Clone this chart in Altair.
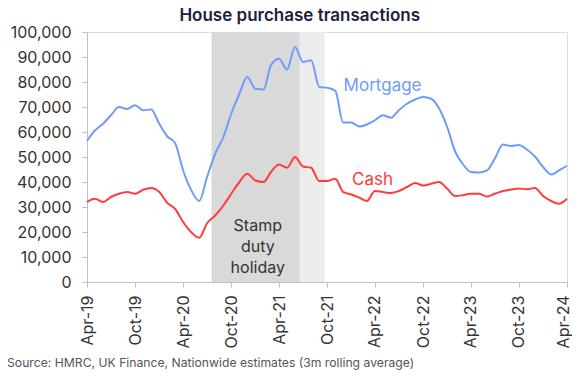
import altair as alt
import pandas as pd

# ---- data ----
months = pd.date_range("2019-04-01", "2024-04-01", freq="MS").strftime("%Y-%m-%d").tolist()

mortgage = [56.5, 60.6, 63.3, 66.7, 70.0, 69.2, 70.7, 68.7, 69.0, 63.3,
            58.2, 55.6, 44.6, 36.9, 32.4, 42.0, 51.3, 58.0, 67.3, 75.3,
            82.0, 77.3, 77.0, 86.7, 89.3, 85.0, 94.0, 88.0, 88.7, 78.0,
            77.7, 76.5, 63.8, 63.8, 62.2, 63.0, 64.7, 66.7, 65.7, 68.7,
            71.3, 73.0, 74.0, 73.3, 69.5, 62.0, 52.0, 47.3, 44.0, 43.8,
            44.6, 49.3, 55.0, 54.4, 54.8, 52.9, 50.2, 46.0, 43.0, 44.6,
            46.5]
cash = [32.0, 33.3, 32.0, 34.0, 35.3, 36.0, 35.3, 36.9, 37.6, 36.0,
        31.6, 29.3, 24.0, 20.0, 17.7, 23.5, 26.6, 30.6, 35.3, 40.0,
        43.3, 40.6, 40.0, 44.0, 47.0, 45.7, 50.0, 46.2, 45.7, 40.4,
        40.4, 41.3, 36.0, 35.0, 33.7, 32.4, 36.4, 36.0, 35.6, 36.4,
        38.0, 39.6, 38.6, 39.3, 40.0, 37.3, 34.4, 34.7, 35.3, 35.3,
        34.2, 35.3, 36.4, 37.0, 37.4, 37.1, 37.6, 34.4, 32.4, 31.3,
        33.3]

series_names = ["Mortgage", "Cash"]
series_colors = ["#6e9cf8", "#ff3b3b"]

holiday_start = ["2020-07-18", "2021-06-19"]
holiday_end = ["2021-06-19", "2021-09-22"]
holiday_fill = ["#d9d9d9", "#ececec"]

tick_dates = ["2019-04-01", "2019-10-01", "2020-04-01", "2020-10-01",
              "2021-04-01", "2021-10-01", "2022-04-01", "2022-10-01",
              "2023-04-01", "2023-10-01", "2024-04-01"]
y_ticks = [0, 10000, 20000, 30000, 40000, 50000, 60000, 70000, 80000, 90000, 100000]

label_text = ["Mortgage", "Cash"]
label_date = ["2022-04-30", "2022-03-23"]
label_value = [76300, 38900]

title_text = "House purchase transactions"
source_text = "Source: HMRC, UK Finance, Nationwide estimates (3m rolling average)"

FONT = "Inter"

# ---- tables ----
rows = []
for d, m, c in zip(months, mortgage, cash):
    rows.append({"date": d, "series": "Mortgage", "value": m * 1000})
    rows.append({"date": d, "series": "Cash", "value": c * 1000})
lines_df = pd.DataFrame(rows)

shade_df = pd.DataFrame({"start": holiday_start, "end": holiday_end,
                         "fill": holiday_fill, "y0": [0, 0], "y1": [100000, 100000]})
labels_df = pd.DataFrame({"date": label_date, "value": label_value,
                          "series": label_text})
holiday_df = pd.DataFrame({"date": ["2021-01-10"], "value": [20600],
                           "t": ["Stamp\nduty\nholiday"]})
title_df = pd.DataFrame({"t": [title_text]})
source_df = pd.DataFrame({"t": [source_text]})


def dt(s):
    y, mo, d = (int(p) for p in s.split("-"))
    return alt.DateTime(year=y, month=mo, date=d, utc=True)


x_scale = alt.Scale(type="utc", domain=[dt("2019-04-01"), dt("2024-04-01")])
y_scale = alt.Scale(domain=[0, 100000], nice=False)
color_scale = alt.Scale(domain=series_names, range=series_colors)

x_axis = alt.Axis(values=[dt(s) for s in tick_dates],
                  labelExpr="utcFormat(datum.value, '%b-%y')",
                  labelAngle=-90, labelFontSize=16, labelPadding=8, tickSize=5,
                  labelOffset={"condition": {"test": "datum.value > 1710000000000",
                                             "value": -4}, "value": 0},
                  grid=False, title=None, domainColor="#c0c0c0", tickColor="#c0c0c0",
                  labelColor="#333333", labelFont=FONT, labelOverlap=False)
y_axis = alt.Axis(values=y_ticks, labelExpr="format(datum.value, ',')",
                  labelFontSize=16, labelPadding=11,
                  tickSize=5, grid=False, title=None, domainColor="#c0c0c0",
                  tickColor="#c0c0c0", labelColor="#333333", labelFont=FONT,
                  labelOverlap=False)


def X(field):
    return alt.X(field, scale=x_scale, axis=x_axis)


def Y(field):
    return alt.Y(field, scale=y_scale, axis=y_axis)


shade = alt.Chart(shade_df).mark_rect().encode(
    x=X("start:T"),
    x2="end:T",
    y=Y("y0:Q"),
    y2="y1:Q",
    color=alt.Color("fill:N", scale=None, legend=None),
)

lines = alt.Chart(lines_df).mark_line(interpolate="monotone", strokeWidth=2).encode(
    x=X("date:T"),
    y=Y("value:Q"),
    color=alt.Color("series:N", scale=color_scale, legend=None),
    detail="series:N",
)

labels = alt.Chart(labels_df).mark_text(font=FONT, fontSize=17, align="center",
                                        baseline="alphabetic").encode(
    x=X("date:T"),
    y=Y("value:Q"),
    text="series:N",
    color=alt.Color("series:N", scale=color_scale, legend=None),
)

holiday = alt.Chart(holiday_df).mark_text(font=FONT, fontSize=16, align="center",
                                          baseline="alphabetic", lineBreak="\n",
                                          lineHeight=21, color="#333333").encode(
    x=X("date:T"),
    y=Y("value:Q"),
    text="t:N",
)

title = alt.Chart(title_df).mark_text(font=FONT, fontSize=17, fontWeight=600,
                                      align="center", baseline="alphabetic",
                                      color="#1b2140").encode(
    x=alt.value(212.7), y=alt.value(-10.8), text="t:N",
)

source = alt.Chart(source_df).mark_text(font=FONT, fontSize=12.2, align="left",
                                        baseline="alphabetic", color="#555555").encode(
    x=alt.value(-80), y=alt.value(335), text="t:N",
)

chart = alt.layer(shade, lines, labels, holiday, title, source).properties(
    width=480, height=250,
    autosize=alt.AutoSizeParams(type="none"),
    padding={"left": 79, "top": 24, "right": 5, "bottom": 88},
).configure_view(stroke=None).configure(background="white")

chart.save("out.html", embed_options={"renderer": "svg", "actions": False})
